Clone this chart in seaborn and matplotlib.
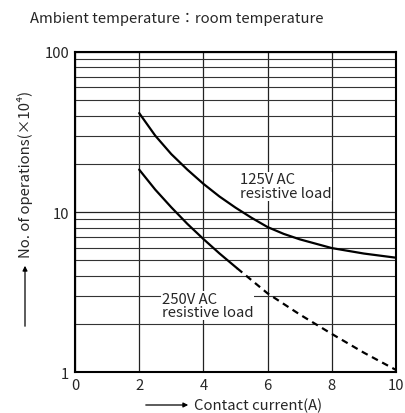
import numpy as np
import pandas as pd
import matplotlib
matplotlib.use("Agg")
import matplotlib.pyplot as plt
import seaborn as sns

# values (operations in x10^4)
current_125 = [2, 2.5, 3, 3.5, 4, 4.5, 5, 5.5, 6, 6.5, 7, 8, 9, 10]
ops_125 = [41.5, 30, 23.0, 18.4, 15.0, 12.5, 10.65, 9.2, 8.05, 7.3, 6.75, 5.95, 5.5, 5.18]

current_250_solid = [2, 2.5, 3, 3.5, 4, 4.5, 5.05]
ops_250_solid = [18.4, 13.8, 10.7, 8.43, 6.78, 5.51, 4.45]
current_250_dash = [5.05, 6, 7, 8, 9, 10]
ops_250_dash = [4.45, 3.1, 2.29, 1.73, 1.32, 1.03]

x_ticks = [0, 2, 4, 6, 8, 10]
y_ticks = [1, 10, 100]

sns.set_style("white")
plt.rcParams['font.family'] = ['Noto Sans CJK JP', 'DejaVu Sans']
fs = 10.7

fig = plt.figure(figsize=(4.06, 4.14), dpi=100)
ax = fig.add_axes([0.1847, 0.099, 0.7907, 0.773])

df125 = pd.DataFrame({"x": current_125, "y": ops_125})
df250s = pd.DataFrame({"x": current_250_solid, "y": ops_250_solid})
df250d = pd.DataFrame({"x": current_250_dash, "y": ops_250_dash})

sns.lineplot(data=df125, x="x", y="y", ax=ax, color="black", lw=1.6)
sns.lineplot(data=df250s, x="x", y="y", ax=ax, color="black", lw=1.6)
sns.lineplot(data=df250d, x="x", y="y", ax=ax, color="black", lw=1.6,
             linestyle=(0, (3, 2.2)))

ax.set_yscale("log")
ax.set_xlim(0, 10)
ax.set_ylim(1, 100)
ax.set_xticks(x_ticks)
ax.set_xticklabels([str(t) for t in x_ticks])
ax.set_yticks(y_ticks)
ax.set_yticklabels([str(t) for t in y_ticks])
ax.yaxis.set_minor_locator(matplotlib.ticker.LogLocator(base=10, subs=np.arange(2, 10)))
ax.yaxis.set_minor_formatter(matplotlib.ticker.NullFormatter())
ax.tick_params(axis="both", which="both", length=0, pad=4, labelsize=fs)

ax.grid(True, which="major", axis="both", color="#222222", lw=0.9)
ax.grid(True, which="minor", axis="y", color="#333333", lw=0.8)
ax.set_axisbelow(True)
for s in ax.spines.values():
    s.set_color("black")
    s.set_linewidth(1.5)

ax.set_xlabel("")
ax.set_ylabel("")

ax.text(5.14, 14.5, "125V AC\nresistive load", fontsize=fs, ha="left", va="center",
        linespacing=0.95, bbox=dict(facecolor="white", edgecolor="none", pad=0.5))
ax.text(2.7, 2.6, "250V AC\nresistive load", fontsize=fs, ha="left", va="center",
        linespacing=0.95, bbox=dict(facecolor="white", edgecolor="none", pad=0.5))

fig.text(30 / 406, 1 - 19 / 414, "Ambient temperature：room temperature",
         fontsize=fs, ha="left", va="center")

# axis labels with arrows
fig.text(25 / 406, 1 - 174 / 414, "No. of operations(×10⁴)", rotation=90,
         fontsize=fs, ha="center", va="center")
fig.add_artist(matplotlib.patches.FancyArrowPatch(
    (25 / 406, 1 - 330 / 414), (25 / 406, 1 - 264 / 414),
    transform=fig.transFigure, arrowstyle="-|>", mutation_scale=7,
    color="black", lw=0.9))

fig.text(194 / 406, 1 - 406 / 414, "Contact current(A)",
         fontsize=fs, ha="left", va="center")
fig.add_artist(matplotlib.patches.FancyArrowPatch(
    (143 / 406, 1 - 406 / 414), (191 / 406, 1 - 406 / 414),
    transform=fig.transFigure, arrowstyle="-|>", mutation_scale=7,
    color="black", lw=0.9))

fig.savefig("out.png", dpi=100, facecolor="white")
